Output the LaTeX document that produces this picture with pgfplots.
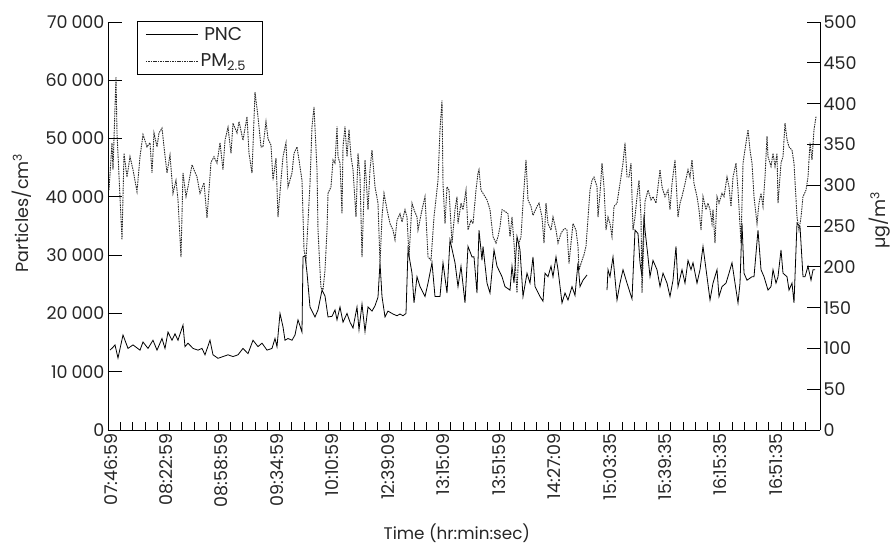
\documentclass[border=0pt]{standalone}
\usepackage{pgfplots}
\usepackage{pgfplotstable}
\pgfplotsset{compat=1.18}
\usepackage{fontspec}
\setmainfont{Poppins}

% x = sample position along the time axis, y = value
\pgfplotstableread{
x y
110 13700
113 14200
115 14600
118 12350
123 16300
128 14000
133 14600
140 13700
143 15100
148 14000
153 15400
157 13700
162 15700
165 14000
168 16800
172 15400
175 16500
178 15400
183 18000
185 14300
188 14900
193 14000
198 13700
202 14000
205 12900
210 15400
213 12900
218 12300
223 12600
228 12900
233 12600
238 12900
243 14000
248 13100
253 15400
258 14300
262 14900
267 13700
272 14000
275 15700
277 14300
280 20000
283 17700
285 15400
288 15700
292 15400
295 16300
298 18900
302 16800
303 29700
305 29900
307 27000
310 21100
315 19400
318 20600
322 24000
325 23000
328 19400
332 19500
335 20600
337 18900
340 21100
343 18500
347 20000
350 18500
353 17500
357 21100
359 17200
362 21600
365 16900
368 21100
372 20400
375 21300
378 22800
380 28700
382 22900
385 19400
388 20400
393 19900
397 19600
400 19900
403 19600
406 20000
408 30900
412 26900
414 21800
417 26300
420 24600
425 22900
428 25200
432 28700
435 22900
440 22900
443 28700
447 23500
450 32600
455 28700
458 24600
461 28100
465 21800
468 31500
472 29700
474 29700
477 23500
479 34300
482 29100
483 31500
487 25200
490 23500
494 30900
497 28100
502 26300
505 24600
510 24000
512 28100
514 25200
517 33200
520 30900
523 22900
527 26900
530 25200
533 29700
535 24600
540 22900
543 22100
545 26900
548 26300
551 28100
553 26300
556 29700
558 27500
562 21800
565 23500
568 22300
572 24600
575 23100
578 28700
580 24600
583 25700
587 26600
597 nan
607 24000
608 27500
610 26300
613 29700
617 22300
620 25200
623 27500
627 25200
632 22500
635 34300
638 33700
640 28700
642 26300
644 37000
645 34300
648 29700
650 26300
653 29100
657 27500
660 24600
663 26900
667 25200
670 22900
673 25700
676 31500
678 24600
682 27500
685 25200
688 29100
691 27500
693 28700
697 25200
700 27500
703 31500
707 26300
710 22300
713 25200
717 27500
719 22900
722 24600
726 25200
729 26900
732 28700
735 25200
738 21800
740 25200
742 35500
744 26900
747 25700
752 26300
754 26300
758 34300
761 27500
764 26300
768 24000
771 24600
773 27500
776 25200
778 26300
781 30900
783 26900
787 26300
789 24000
792 25200
794 21800
797 35500
800 34900
803 26300
805 26300
808 28100
811 25700
813 27500
815 27500
}\pncdata

\pgfplotstableread{
x y
109 294
112 352
113 319
116 433
117 364
122 233
124 339
127 310
130 335
133 319
137 292
140 335
143 362
147 347
150 352
152 315
154 364
157 347
159 364
162 370
164 347
167 315
170 337
173 290
176 306
178 282
181 212
183 315
186 286
188 298
192 325
197 310
200 290
204 303
207 260
211 328
214 335
217 327
220 352
223 319
225 355
228 371
231 339
233 376
237 364
239 378
243 355
247 384
249 339
252 315
255 414
258 384
261 347
263 347
266 378
268 357
271 349
273 306
276 333
278 261
281 306
283 335
286 352
288 298
292 315
294 339
297 347
299 331
302 306
304 221
306 208
310 302
312 372
314 396
317 319
318 245
320 196
321 174
323 172
325 196
327 245
328 290
331 298
333 331
335 327
337 372
338 335
340 327
342 265
343 347
345 372
347 335
349 368
351 335
353 319
356 261
358 339
360 310
362 212
365 331
368 270
370 319
372 343
375 298
378 278
380 204
382 261
384 290
387 270
390 253
393 245
395 233
397 257
400 265
402 255
405 270
407 261
409 212
412 278
414 270
417 261
418 245
422 270
425 286
428 212
431 208
434 261
438 306
440 368
442 404
443 302
445 253
447 298
449 294
452 229
455 270
457 286
458 253
461 278
463 270
466 294
468 245
471 257
473 253
476 294
478 315
479 319
481 294
483 290
487 282
490 270
493 237
496 229
498 237
500 249
502 270
505 268
508 265
510 237
512 261
514 229
517 168
519 229
521 237
523 278
526 331
528 282
531 274
533 263
537 274
539 278
542 261
544 229
546 278
548 253
551 245
553 261
556 245
558 229
561 241
563 245
565 247
567 245
569 204
571 229
573 253
576 245
578 225
579 196
581 204
584 215
586 225
590 294
592 306
594 310
597 298
598 261
600 290
602 327
604 298
606 245
608 261
610 253
612 237
614 274
617 278
619 294
621 310
623 327
625 352
627 310
629 310
631 327
633 245
635 261
637 286
639 306
641 261
642 168
645 280
648 294
651 282
653 286
656 278
658 298
660 319
662 298
665 286
668 294
670 270
672 302
675 331
678 261
680 278
682 286
685 302
688 319
690 310
692 331
694 302
697 286
699 270
701 245
703 286
706 270
708 278
710 270
712 253
713 270
715 229
717 286
719 278
722 290
724 286
727 310
729 298
731 274
733 310
736 327
738 294
741 229
743 327
746 352
748 368
750 343
752 327
754 286
757 253
759 278
761 290
763 274
765 310
767 360
768 335
771 323
773 339
775 323
777 339
778 278
781 327
783 335
785 376
787 356
789 347
792 343
794 327
797 261
799 245
801 261
803 286
806 294
808 310
810 352
812 331
814 368
816 384
}\pmdata

\begin{document}
\begin{tikzpicture}[font=\fontsize{17.5bp}{20bp}\selectfont, text=black!85]
\pgfplotsset{
  common/.style={
    at={(0,0)}, anchor=south west,
    scale only axis, width=712bp, height=408bp,
    xmin=108, xmax=820,
    axis line style={-, line width=0.8bp, black},
    tick style={line width=0.8bp, black},
    tick align=inside,
    major tick length=13.5bp,
    tick label style={font=\fontsize{17.5bp}{20bp}\selectfont},
    label style={font=\fontsize{17.5bp}{20bp}\selectfont},
    /pgf/number format/assume math mode=true,
    unbounded coords=jump,
  },
}
\begin{axis}[
  common,
  ymin=0, ymax=70000,
  axis x line*=bottom, axis y line*=left,
  ytick={0,10000,...,70000},
  scaled y ticks=false,
  /pgf/number format/1000 sep={\hspace{0.22em}},
  xtick={108,163,218.4,273.9,329.3,384.8,440.2,495.7,551.1,606.6,662,717.5,772.9},
  xticklabels={07:46:59,08:22:59,08:58:59,09:34:59,10:10:59,12:39:09,13:15:09,13:51:59,14:27:09,15:03:35,15:39:35,16:15:35,16:51:35},
  major x tick style={draw=none},
  minor xtick={120.53,132.76,...,806},
  minor tick length=8bp,
  xticklabel style={rotate=90, anchor=east, yshift=-3bp},
  xlabel={Time (hr:min:sec)},
  every axis x label/.style={at={(axis description cs:0.49,-0.252)}, anchor=center,
    font=\fontsize{16.8bp}{19bp}\selectfont},
  ylabel={Particles/cm\textsuperscript{3}},
  every axis y label/.style={at={(axis description cs:-0.1216,0.532)}, rotate=90, anchor=center},
  legend style={at={(axis description cs:0.0407,1.0025)}, anchor=north west,
    draw=black, line width=0.8bp, inner xsep=8bp, inner ysep=4bp, row sep=8bp,
    column sep=-6bp, minimum width=62bp,
    font=\fontsize{18.5bp}{21bp}\selectfont},
  legend cell align=left,
  legend image code/.code={\draw[#1] (0bp,0bp) -- (52bp,0bp);},
]
\addplot[black, line width=0.8bp] table[x=x, y=y] {\pncdata};
\addlegendentry{PNC}
\addlegendimage{black!85, line width=0.9bp, dash pattern=on 1.5bp off 0.9bp}
\addlegendentry{PM\textsubscript{2.5}}
\end{axis}
\begin{axis}[
  common,
  ymin=0, ymax=500,
  axis x line=none, axis y line*=right,
  ytick={0,50,...,500},
  ylabel={µg/m\textsuperscript{3}},
  every axis y label/.style={at={(axis description cs:1.084,0.515)}, rotate=90, anchor=center},
]
\addplot[black!85, line width=0.9bp, dash pattern=on 1.5bp off 0.9bp] table[x=x, y=y] {\pmdata};
\end{axis}
\pgfresetboundingbox
\path[use as bounding box] (-108bp,-115bp) rectangle (784bp,430bp);
\end{tikzpicture}
\end{document}
